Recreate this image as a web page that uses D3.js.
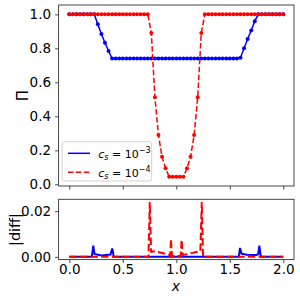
<!DOCTYPE html>
<html><head><meta charset="utf-8">
<script src="https://cdn.jsdelivr.net/npm/d3@7"></script>
<style>body{margin:0;background:#fff}svg{display:block}text{font-family:"DejaVu Sans",sans-serif}</style>
</head><body><svg id="c" width="300" height="300"></svg>
<script>
// ---- data ----
const gridN = 61, gridStep = 1/30;           // sample grid x = k/30, k=0..60
const piBlue = [1,1,1,1,1,1,1,1, 0.941,0.884,0.833,0.784,
  0.74,0.74,0.74,0.74,0.74,0.74,0.74,0.74,0.74,0.74,0.74,0.74,0.74,0.74,0.74,0.74,0.74,0.74,
  0.74,0.74,0.74,0.74,0.74,0.74,0.74,0.74,0.74,0.74,0.74,0.74,0.74,0.74,0.74,0.74,0.74,0.74,
  0.745,0.80,0.855,0.905,0.96, 1,1,1,1,1,1,1,1];
const piRed = [1,1,1,1,1,1,1,1,1,1,1,1,1,1,1,1,1,1,1,1,1,1,1,
  0.89,0.512,0.29,0.162,0.094, 0.045,0.045,0.045,0.045,0.045, 0.094,0.162,0.29,0.512,0.89,
  1,1,1,1,1,1,1,1,1,1,1,1,1,1,1,1,1,1,1,1,1,1,1];
const diffBlueX = [0,0.21,0.224,0.235,0.3,0.385,0.402,0.415,1.585,1.595,1.61,1.66,1.75,1.765,1.776,1.79,2.0];
const diffBlueY = [0,0,0.0049,0.0013,0.0006,0.001,0.0037,0,0,0.0039,0.0014,0.0009,0.0008,0.0012,0.0049,0,0];
const diffRedX = [0,0.74,0.752,0.765,0.8,0.93,0.943,0.95,0.96,1.04,1.05,1.06,1.1,1.225,1.238,1.25,2.0];
const diffRedY = [0,0,0.024,0.0022,0.0025,0.001,0.0003,0.0078,0.0004,0.0004,0.0075,0.0008,0.0012,0.0025,0.024,0,0];
const xTicks = [0,0.5,1.0,1.5,2.0];
const yTicksTop = [0,0.2,0.4,0.6,0.8,1.0];
const yTicksBot = [0,0.02];
const seriesLabels = [{sub:"s", exp:"−3"},{sub:"s", exp:"−4"}];

const xs = d3.range(gridN).map(k => k*gridStep);
const svg = d3.select("#c");
const x = d3.scaleLinear().domain([-0.1,2.1]).range([58.6,294]);
const yT = d3.scaleLinear().domain([-0.01,1.055]).range([186,5]);
const yB = d3.scaleLinear().domain([-0.0012,0.0252]).range([259.6,199.3]);
const BLUE="#0000ff", RED="#ff0000";

function panel(y, id){
  const [y1,y0]=y.range(); const [x0,x1]=x.range();
  svg.append("clipPath").attr("id",id).append("rect").attr("x",x0).attr("y",y0).attr("width",x1-x0).attr("height",y1-y0);
  return svg.append("g").attr("clip-path",`url(#${id})`);
}
function frame(y, yt, fmt, showX){
  const [y1,y0]=y.range(); const [x0,x1]=x.range();
  const gx = svg.append("g").attr("transform",`translate(0,${y1})`)
    .call(d3.axisBottom(x).tickValues(xTicks).tickSize(3.5).tickPadding(1).tickFormat(showX?d3.format(".1f"):""));
  const gy = svg.append("g").attr("transform",`translate(${x0},0)`)
    .call(d3.axisLeft(y).tickValues(yt).tickSize(3.5).tickPadding(4).tickFormat(d3.format(fmt)));
  [gx,gy].forEach(g=>{g.select(".domain").remove();
    g.selectAll("line").attr("stroke","#333").attr("stroke-width",0.9);
    g.selectAll("text").attr("font-size","13.5px").attr("fill","#000").attr("font-family","DejaVu Sans");});
  svg.append("rect").attr("x",x0).attr("y",y0).attr("width",x1-x0).attr("height",y1-y0)
    .attr("fill","none").attr("stroke","#333").attr("stroke-width",0.9);
}

// top panel
const gT = panel(yT,"cT");
const lineT = d3.line().x((d,i)=>x(xs[i])).y(d=>yT(d));
gT.append("path").attr("d",lineT(piBlue)).attr("fill","none").attr("stroke",BLUE).attr("stroke-width",1.5);
gT.selectAll(".db").data(piBlue).join("circle").attr("cx",(d,i)=>x(xs[i])).attr("cy",d=>yT(d)).attr("r",2).attr("fill",BLUE);
gT.append("path").attr("d",lineT(piRed)).attr("fill","none").attr("stroke",RED).attr("stroke-width",1.5).attr("stroke-dasharray","5.5,2.4");
gT.selectAll(".dr").data(piRed).join("circle").attr("cx",(d,i)=>x(xs[i])).attr("cy",d=>yT(d)).attr("r",2).attr("fill",RED);
frame(yT, yTicksTop, ".1f", false);

// bottom panel
const gB = panel(yB,"cB");
const lineB = d3.line().x(d=>x(d[0])).y(d=>yB(d[1]));
gB.append("path").attr("d",lineB(d3.zip(diffBlueX,diffBlueY))).attr("fill","none").attr("stroke",BLUE).attr("stroke-width",2);
gB.append("path").attr("d",lineB(d3.zip(diffRedX,diffRedY))).attr("fill","none").attr("stroke",RED).attr("stroke-width",2).attr("stroke-dasharray","7.4,3.2");
frame(yB, yTicksBot, ".2f", true);

// labels
svg.append("text").attr("transform","translate(28,95.5) rotate(-90)").attr("text-anchor","middle").attr("font-size","15px").text("Π");
svg.append("text").attr("transform","translate(20,229.5) rotate(-90)").attr("text-anchor","middle").attr("font-size","14.5px").text("|diff|");
svg.append("text").attr("x",176).attr("y",291).attr("text-anchor","middle").attr("font-size","14px").attr("font-style","italic").text("x");

// legend
const lg = svg.append("g");
lg.append("rect").attr("x",62).attr("y",141.7).attr("width",89.7).attr("height",39.3).attr("rx",2.5)
  .attr("fill","#fff").attr("fill-opacity",0.8).attr("stroke","#ccc").attr("stroke-width",0.9);
const rows=[{c:BLUE,dash:null,y:153.3},{c:RED,dash:"5.5,2.4",y:172.3}];
rows.forEach((r,i)=>{
  lg.append("line").attr("x1",68).attr("x2",90).attr("y1",r.y).attr("y2",r.y).attr("stroke",r.c).attr("stroke-width",1.5).attr("stroke-dasharray",r.dash);
  const t = lg.append("text").attr("x",98.3).attr("y",r.y+4.2).attr("font-size","11px");
  t.append("tspan").attr("font-style","italic").text("c");
  t.append("tspan").attr("font-style","italic").attr("font-size","8px").attr("dy",2).text(seriesLabels[i].sub);
  t.append("tspan").attr("dy",-2).text(" = 10");
  t.append("tspan").attr("font-size","8px").attr("dy",-4.5).text(seriesLabels[i].exp);
});
</script></body></html>
